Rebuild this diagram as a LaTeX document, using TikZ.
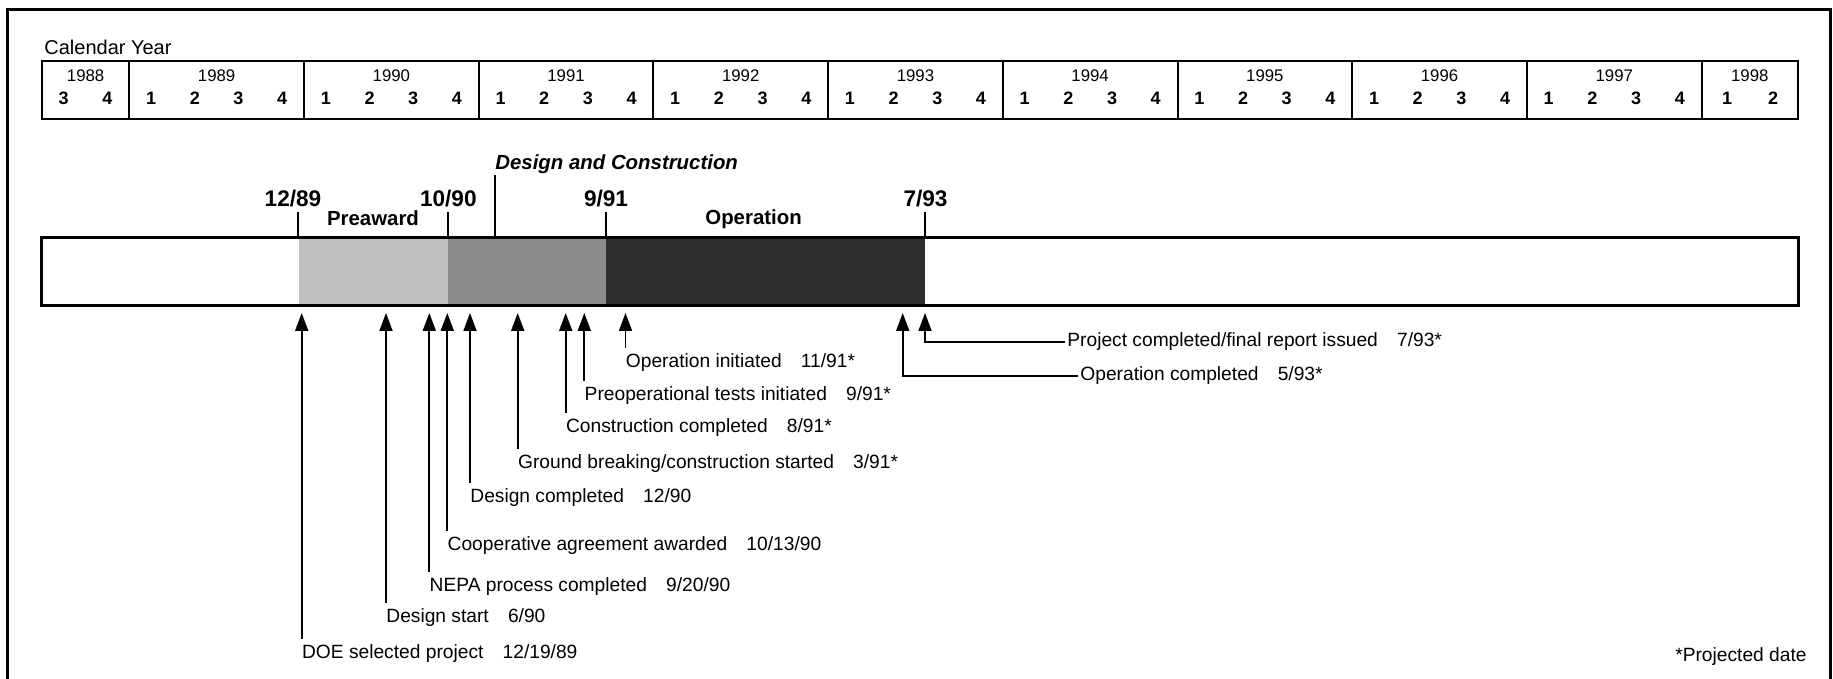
\documentclass[tikz,border=0pt]{standalone}
\usepackage{fontspec}
\setmainfont{Liberation Sans}
\usetikzlibrary{arrows.meta}

\begin{document}
\begin{tikzpicture}[x=.5pt,y=.5pt,
 evt/.style={-{Triangle[length=9pt,width=6.5pt]},line width=.9pt},
 evtlbl/.style={anchor=north west,inner xsep=0pt,inner ysep=2.5pt,font=\fontsize{9.6}{11}\selectfont},
 sidelbl/.style={anchor=west,inner sep=1pt,font=\fontsize{9.6}{11}\selectfont},
 datelbl/.style={anchor=base,inner sep=0pt,font=\bfseries\fontsize{11.3}{13}\selectfont},
 phaselbl/.style={anchor=base west,inner sep=0pt,font=\bfseries\fontsize{10.2}{12}\selectfont},
 yrlbl/.style={inner sep=0pt,font=\fontsize{8.4}{10}\selectfont},
 qlbl/.style={inner sep=0pt,font=\bfseries\fontsize{9}{10}\selectfont}]
 \path[use as bounding box] (0,0) rectangle (1833,-679);
 \draw[line width=1.5pt] (7,-679) -- (7,-10) -- (1830,-10) -- (1830,-679);
 % calendar strip
 \node[anchor=base west,inner sep=0pt,font=\fontsize{10}{12}\selectfont] (cal) at (44,-55) {Calendar Year};
 \draw[line width=1pt] (41.9,-61.5) rectangle (1798,-119);
 \node[yrlbl] (y1988) at (85.6,-76) {1988};
 \node[qlbl] (q19883) at (63.7,-98) {3};
 \node[qlbl] (q19884) at (107.4,-98) {4};
 \foreach \yr [count=\i from 0] in {1989,...,1997}{
  \pgfmathsetmacro\xs{129.3+174.7*\i}
  \draw[line width=1pt] (\xs,-61.5) -- (\xs,-119);
  \node[yrlbl] (y\yr) at (\xs+87.35,-76) {\yr};
  \foreach \q in {1,...,4}{\node[qlbl] (q\yr\q) at (\xs+43.68*\q-21.84,-98) {\q};}
 }
 \draw[line width=1pt] (1701.6,-61.5) -- (1701.6,-119);
 \node[yrlbl] (y1998) at (1749.8,-76) {1998};
 \node[qlbl] (q19981) at (1727,-98) {1};
 \node[qlbl] (q19982) at (1773,-98) {2};
 % phase bar
 \fill[black!25] (299,-238) rectangle (448.3,-306);
 \fill[black!45] (448.3,-238) rectangle (606,-306);
 \fill[black!82] (606,-238) rectangle (924.5,-306);
 \draw[line width=1.5pt] (41.9,-238) rectangle (1798,-306);
 \node[datelbl] (m1289) at (293,-206.7) {12/89};
 \node[datelbl] (m1090) at (448.3,-206.7) {10/90};
 \node[datelbl] (m991) at (606,-206.7) {9/91};
 \node[datelbl] (m793) at (925.5,-206.7) {7/93};
 \foreach \x in {298.3,448.3,606,924.5} \draw[line width=1pt] (\x,-211.7) -- (\x,-238);
 \node[phaselbl] (pre) at (326.7,-226) {Preaward};
 \node[phaselbl,font=\bfseries\itshape\fontsize{10.2}{12}\selectfont] (dac) at (495,-170) {Design and Construction};
 \draw[line width=1pt] (495,-175) -- (495,-238);
 \node[phaselbl] (opr) at (705,-225) {Operation};
 % milestones
 \coordinate (tips) at (0,-313);
 \node[evtlbl] (doe) at (301.7,-639) {DOE selected project\quad 12/19/89};
 \node[evtlbl] (dst) at (386,-603) {Design start\quad 6/90};
 \node[evtlbl] (nepa) at (429.3,-572) {NEPA process completed\quad 9/20/90};
 \node[evtlbl] (coop) at (447.3,-531) {Cooperative agreement awarded\quad 10/13/90};
 \node[evtlbl] (dcm) at (470,-483) {Design completed\quad 12/90};
 \node[evtlbl] (gbr) at (517.7,-449) {Ground breaking/construction started\quad 3/91*};
 \node[evtlbl] (ccm) at (565.7,-413) {Construction completed\quad 8/91*};
 \node[evtlbl] (pot) at (584.3,-381) {Preoperational tests initiated\quad 9/91*};
 \node[evtlbl] (opi) at (625.5,-348) {Operation initiated\quad 11/91*};
 \foreach \n in {doe,dst,nepa,coop,dcm,gbr,ccm,pot,opi} \draw[evt] (\n.north west) -- (\n.north west |- tips);
 \node[sidelbl] (pcm) at (1065,-342) {Project completed/final report issued\quad 7/93*};
 \node[sidelbl] (ocm) at (1078,-376) {Operation completed\quad 5/93*};
 \coordinate (pct) at (925,-313);
 \coordinate (oct) at (902.7,-313);
 \draw[evt] (pcm.west) -| (pct);
 \draw[evt] (ocm.west) -| (oct);
 \node[anchor=base east,inner sep=0pt,font=\fontsize{9.6}{11}\selectfont] (note) at (1807,-661.7) {*Projected date};
\end{tikzpicture}
\end{document}
